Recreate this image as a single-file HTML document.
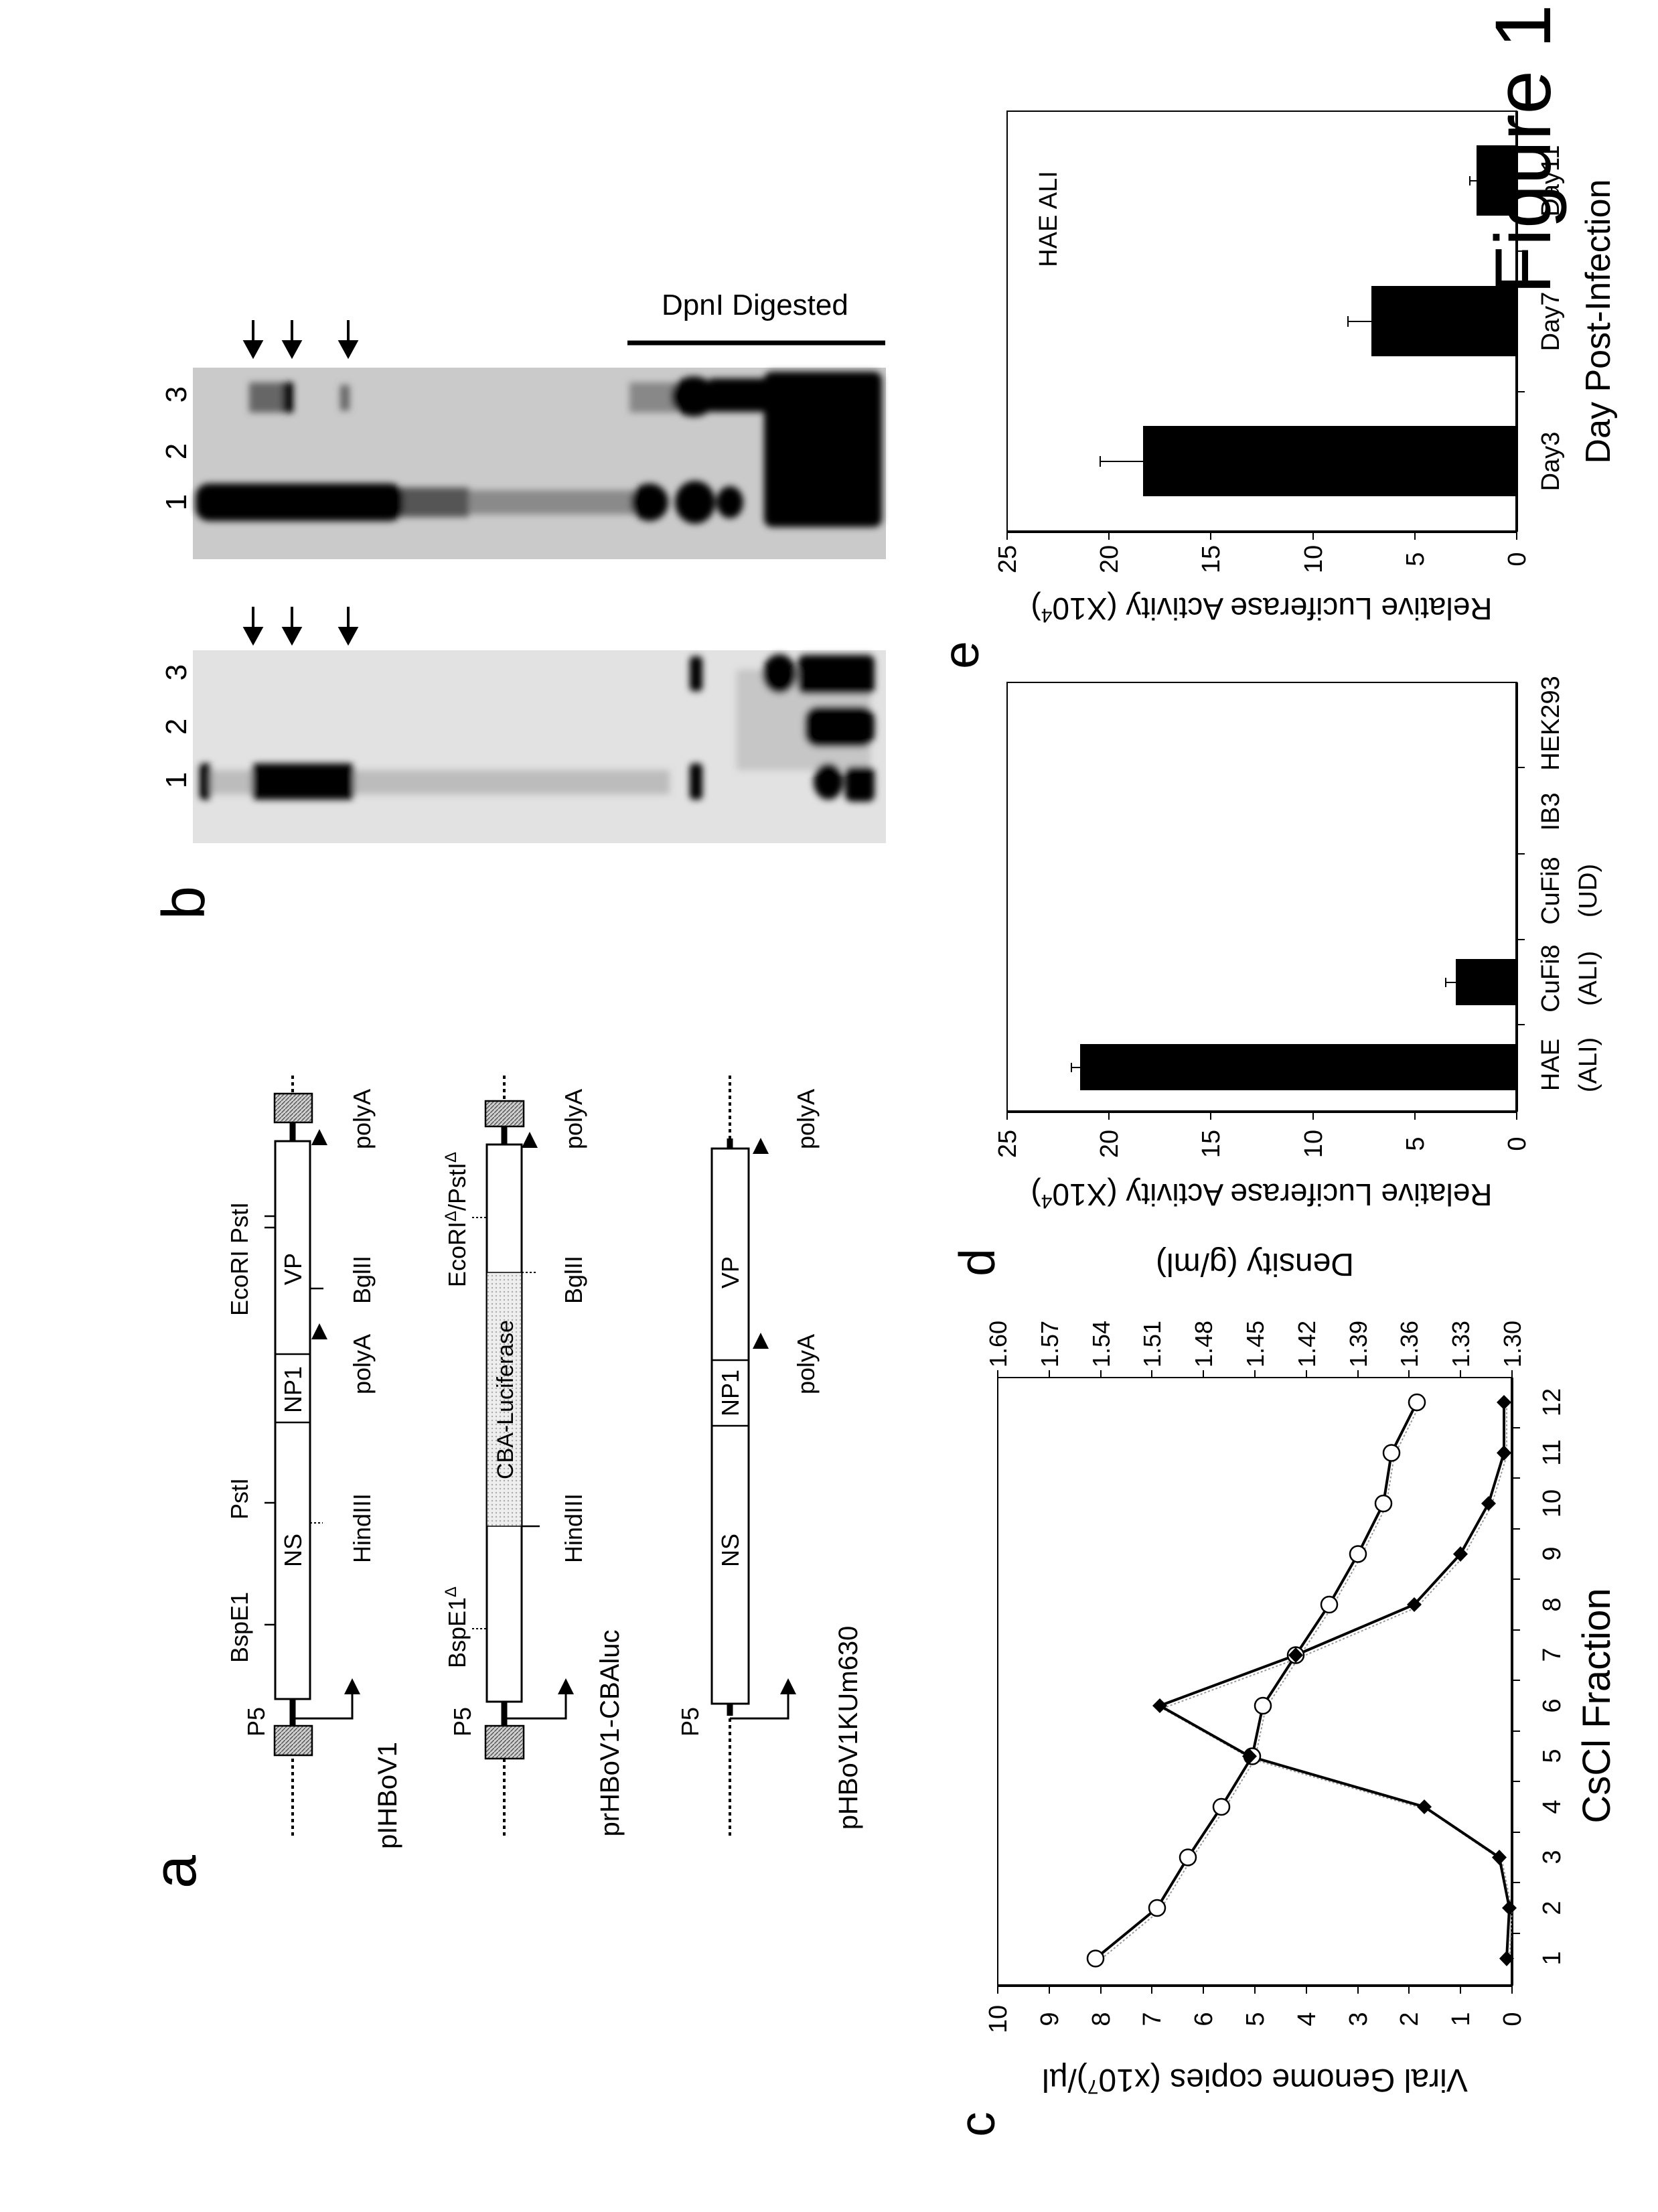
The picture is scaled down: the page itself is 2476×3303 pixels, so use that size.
<!DOCTYPE html>
<html><head><meta charset="utf-8"><style>
html,body{margin:0;padding:0;background:#fff;}
svg{display:block;}
text{font-family:"Liberation Sans",Arial,sans-serif;fill:#000;}
</style></head><body>
<svg width="2476" height="3303" viewBox="0 0 2476 3303" xmlns="http://www.w3.org/2000/svg">
<defs>
<filter id="bl" x="-20%" y="-20%" width="140%" height="140%"><feGaussianBlur stdDeviation="5"/></filter>
<pattern id="hatch" width="6" height="6" patternUnits="userSpaceOnUse"><rect width="6" height="6" fill="#d0d0d0"/><path d="M0 6L6 0" stroke="#555" stroke-width="1.5"/></pattern>
<pattern id="lite" width="6" height="6" patternUnits="userSpaceOnUse"><rect width="6" height="6" fill="#eee"/><circle cx="3" cy="3" r="1.2" fill="#aaa"/></pattern>
</defs>
<rect width="2476" height="3303" fill="#fff"/>

<!-- Figure 1 -->
<text transform="translate(2315,223) rotate(-90)" text-anchor="middle" font-size="118">Figure 1</text>

<!-- ============ PANEL b (gels) ============ -->
<text transform="translate(305,1348) rotate(-90)" text-anchor="middle" font-size="90">b</text>
<text x="988" y="470" font-size="44">DpnI Digested</text>
<line x1="937" y1="512" x2="1322" y2="512" stroke="#000" stroke-width="7"/>
<!-- top gel -->
<rect x="288" y="549" width="1035" height="286" fill="#cacaca"/>
<g filter="url(#bl)">
<rect x="700" y="732" width="250" height="36" fill="#8a8a8a"/>
<rect x="590" y="728" width="110" height="44" fill="#555"/>
<rect x="292" y="722" width="310" height="56" rx="20" fill="#000"/>
<ellipse cx="970" cy="750" rx="28" ry="28" fill="#000"/>
<ellipse cx="1038" cy="750" rx="30" ry="32" fill="#000"/>
<ellipse cx="1090" cy="750" rx="20" ry="24" fill="#000"/>
<rect x="1141" y="555" width="176" height="232" rx="12" fill="#000"/>
<rect x="372" y="571" width="66" height="45" fill="#666"/>
<rect x="422" y="571" width="16" height="45" fill="#000"/>
<rect x="508" y="575" width="14" height="38" fill="#666"/>
<rect x="940" y="571" width="70" height="45" fill="#888"/>
<ellipse cx="1036" cy="592" rx="34" ry="30" fill="#000"/>
<rect x="1060" y="565" width="100" height="50" fill="#000"/>
</g>
<!-- bottom gel -->
<rect x="288" y="971" width="1035" height="288" fill="#e2e2e2"/>
<g filter="url(#bl)">
<rect x="300" y="1150" width="700" height="36" fill="#bcbcbc"/>
<rect x="1100" y="1000" width="200" height="150" fill="#aaa" opacity="0.5"/>
<rect x="298" y="1140" width="17" height="54" rx="6" fill="#000"/>
<rect x="376" y="1140" width="153" height="54" rx="8" fill="#000"/>
<rect x="1030" y="1140" width="19" height="54" rx="6" fill="#000"/>
<rect x="1030" y="980" width="19" height="52" rx="6" fill="#000"/>
<ellipse cx="1237" cy="1167" rx="22" ry="27" fill="#000"/>
<rect x="1262" y="1145" width="44" height="52" rx="10" fill="#000"/>
<ellipse cx="1164" cy="1006" rx="25" ry="29" fill="#000"/>
<rect x="1192" y="978" width="114" height="58" rx="10" fill="#000"/>
<rect x="1202" y="1055" width="104" height="60" rx="20" fill="#000"/>
</g>
<g font-size="44">
<text transform="translate(278,750) rotate(-90)" text-anchor="middle">1</text>
<text transform="translate(278,674) rotate(-90)" text-anchor="middle">2</text>
<text transform="translate(278,589) rotate(-90)" text-anchor="middle">3</text>
<text transform="translate(278,1165) rotate(-90)" text-anchor="middle">1</text>
<text transform="translate(278,1085) rotate(-90)" text-anchor="middle">2</text>
<text transform="translate(278,1004) rotate(-90)" text-anchor="middle">3</text>
</g>
<g stroke="#000" stroke-width="4" fill="#000">
<line x1="378" y1="478" x2="378" y2="515"/><path d="M366 510L390 510L378 532Z"/>
<line x1="436" y1="478" x2="436" y2="515"/><path d="M424 510L448 510L436 532Z"/>
<line x1="520" y1="478" x2="520" y2="515"/><path d="M508 510L532 510L520 532Z"/>
<line x1="378" y1="906" x2="378" y2="943"/><path d="M366 938L390 938L378 960Z"/>
<line x1="436" y1="906" x2="436" y2="943"/><path d="M424 938L448 938L436 960Z"/>
<line x1="520" y1="906" x2="520" y2="943"/><path d="M508 938L532 938L520 960Z"/>
</g>

<!-- ============ PANEL e right ============ -->
<text transform="translate(1461,978) rotate(-90)" text-anchor="middle" font-size="75">e</text>
<rect x="1504" y="166" width="761" height="628" fill="none" stroke="#000" stroke-width="2"/>
<line x1="2265" y1="166" x2="2265" y2="794" stroke="#000" stroke-width="4"/>
<line x1="1504" y1="794" x2="2265" y2="794" stroke="#000" stroke-width="4"/>
<g fill="#000">
<rect x="1707" y="636" width="558" height="105"/>
<rect x="2048" y="427" width="217" height="105"/>
<rect x="2205" y="217" width="60" height="105"/>
</g>
<g stroke="#000" stroke-width="2">
<line x1="1643" y1="689" x2="1707" y2="689"/><line x1="1643" y1="681" x2="1643" y2="697"/>
<line x1="2013" y1="480" x2="2048" y2="480"/><line x1="2013" y1="472" x2="2013" y2="488"/>
<line x1="2195" y1="270" x2="2205" y2="270"/><line x1="2195" y1="263" x2="2195" y2="277"/>
<line x1="2265" y1="375" x2="2277" y2="375"/><line x1="2265" y1="585" x2="2277" y2="585"/>
<line x1="2265" y1="794" x2="2265" y2="806"/><line x1="2113" y1="794" x2="2113" y2="806"/><line x1="1961" y1="794" x2="1961" y2="806"/><line x1="1808" y1="794" x2="1808" y2="806"/><line x1="1656" y1="794" x2="1656" y2="806"/><line x1="1504" y1="794" x2="1504" y2="806"/>
</g>
<g font-size="38" text-anchor="middle">
<text transform="translate(2278,835) rotate(-90)">0</text>
<text transform="translate(2126,835) rotate(-90)">5</text>
<text transform="translate(1974,835) rotate(-90)">10</text>
<text transform="translate(1821,835) rotate(-90)">15</text>
<text transform="translate(1669,835) rotate(-90)">20</text>
<text transform="translate(1517,835) rotate(-90)">25</text>
<text transform="translate(2328,689) rotate(-90)">Day3</text>
<text transform="translate(2328,480) rotate(-90)">Day7</text>
<text transform="translate(2328,270) rotate(-90)">Day11</text>
<text transform="translate(1578,327) rotate(-90)">HAE ALI</text>
</g>
<text transform="translate(2404,480) rotate(-90)" text-anchor="middle" font-size="52">Day Post-Infection</text>
<text transform="translate(1884,893) rotate(180)" text-anchor="middle" font-size="46">Relative Luciferase Activity (X10<tspan font-size="30" dy="-16">4</tspan><tspan dy="16">)</tspan></text>

<!-- ============ PANEL e left ============ -->
<rect x="1504" y="1019" width="761" height="641" fill="none" stroke="#000" stroke-width="2"/>
<line x1="2265" y1="1019" x2="2265" y2="1660" stroke="#000" stroke-width="4"/>
<line x1="1504" y1="1660" x2="2265" y2="1660" stroke="#000" stroke-width="4"/>
<g fill="#000">
<rect x="1613" y="1559" width="652" height="69"/>
<rect x="2174" y="1432" width="91" height="69"/>
</g>
<g stroke="#000" stroke-width="2">
<line x1="1600" y1="1594" x2="1613" y2="1594"/><line x1="1600" y1="1587" x2="1600" y2="1601"/>
<line x1="2159" y1="1467" x2="2174" y2="1467"/><line x1="2159" y1="1460" x2="2159" y2="1474"/>
<line x1="2265" y1="1146" x2="2277" y2="1146"/><line x1="2265" y1="1275" x2="2277" y2="1275"/><line x1="2265" y1="1403" x2="2277" y2="1403"/><line x1="2265" y1="1530" x2="2277" y2="1530"/>
<line x1="2265" y1="1660" x2="2265" y2="1672"/><line x1="2113" y1="1660" x2="2113" y2="1672"/><line x1="1961" y1="1660" x2="1961" y2="1672"/><line x1="1808" y1="1660" x2="1808" y2="1672"/><line x1="1656" y1="1660" x2="1656" y2="1672"/><line x1="1504" y1="1660" x2="1504" y2="1672"/>
</g>
<g font-size="38" text-anchor="middle">
<text transform="translate(2278,1708) rotate(-90)">0</text>
<text transform="translate(2126,1708) rotate(-90)">5</text>
<text transform="translate(1974,1708) rotate(-90)">10</text>
<text transform="translate(1821,1708) rotate(-90)">15</text>
<text transform="translate(1669,1708) rotate(-90)">20</text>
<text transform="translate(1517,1708) rotate(-90)">25</text>
<text transform="translate(2328,1590) rotate(-90)">HAE</text>
<text transform="translate(2384,1590) rotate(-90)">(ALI)</text>
<text transform="translate(2328,1461) rotate(-90)">CuFi8</text>
<text transform="translate(2384,1461) rotate(-90)">(ALI)</text>
<text transform="translate(2328,1330) rotate(-90)">CuFi8</text>
<text transform="translate(2384,1330) rotate(-90)">(UD)</text>
<text transform="translate(2328,1212) rotate(-90)">IB3</text>
<text transform="translate(2328,1080) rotate(-90)">HEK293</text>
</g>
<text transform="translate(1884,1768) rotate(180)" text-anchor="middle" font-size="46">Relative Luciferase Activity (X10<tspan font-size="30" dy="-16">4</tspan><tspan dy="16">)</tspan></text>

<!-- ============ PANEL c/d ============ -->
<text transform="translate(1485,1885) rotate(-90)" text-anchor="middle" font-size="75">d</text>
<text transform="translate(1485,3172) rotate(-90)" text-anchor="middle" font-size="75">c</text>
<rect x="1490" y="2057" width="768" height="908" fill="none" stroke="#000" stroke-width="2"/>
<line x1="2258" y1="2057" x2="2258" y2="2965" stroke="#000" stroke-width="4"/>
<line x1="1490" y1="2965" x2="2258" y2="2965" stroke="#000" stroke-width="4"/>
<g stroke="#000" stroke-width="2">
<line x1="2258" y1="2965" x2="2258" y2="2977"/><line x1="2181" y1="2965" x2="2181" y2="2977"/><line x1="2104" y1="2965" x2="2104" y2="2977"/><line x1="2028" y1="2965" x2="2028" y2="2977"/><line x1="1951" y1="2965" x2="1951" y2="2977"/><line x1="1874" y1="2965" x2="1874" y2="2977"/><line x1="1797" y1="2965" x2="1797" y2="2977"/><line x1="1720" y1="2965" x2="1720" y2="2977"/><line x1="1644" y1="2965" x2="1644" y2="2977"/><line x1="1567" y1="2965" x2="1567" y2="2977"/><line x1="1490" y1="2965" x2="1490" y2="2977"/>
<line x1="1490" y1="2057" x2="1490" y2="2046"/><line x1="1567" y1="2057" x2="1567" y2="2046"/><line x1="1644" y1="2057" x2="1644" y2="2046"/><line x1="1720" y1="2057" x2="1720" y2="2046"/><line x1="1797" y1="2057" x2="1797" y2="2046"/><line x1="1874" y1="2057" x2="1874" y2="2046"/><line x1="1951" y1="2057" x2="1951" y2="2046"/><line x1="2028" y1="2057" x2="2028" y2="2046"/><line x1="2104" y1="2057" x2="2104" y2="2046"/><line x1="2181" y1="2057" x2="2181" y2="2046"/><line x1="2258" y1="2057" x2="2258" y2="2046"/>
<line x1="2258" y1="2887" x2="2270" y2="2887"/><line x1="2258" y1="2811" x2="2270" y2="2811"/><line x1="2258" y1="2736" x2="2270" y2="2736"/><line x1="2258" y1="2660" x2="2270" y2="2660"/><line x1="2258" y1="2585" x2="2270" y2="2585"/><line x1="2258" y1="2509" x2="2270" y2="2509"/><line x1="2258" y1="2434" x2="2270" y2="2434"/><line x1="2258" y1="2358" x2="2270" y2="2358"/><line x1="2258" y1="2283" x2="2270" y2="2283"/><line x1="2258" y1="2207" x2="2270" y2="2207"/><line x1="2258" y1="2132" x2="2270" y2="2132"/>
</g>
<g font-size="38" text-anchor="middle">
<text transform="translate(2271,3015) rotate(-90)">0</text>
<text transform="translate(2194,3015) rotate(-90)">1</text>
<text transform="translate(2117,3015) rotate(-90)">2</text>
<text transform="translate(2041,3015) rotate(-90)">3</text>
<text transform="translate(1964,3015) rotate(-90)">4</text>
<text transform="translate(1887,3015) rotate(-90)">5</text>
<text transform="translate(1810,3015) rotate(-90)">6</text>
<text transform="translate(1733,3015) rotate(-90)">7</text>
<text transform="translate(1657,3015) rotate(-90)">8</text>
<text transform="translate(1580,3015) rotate(-90)">9</text>
<text transform="translate(1503,3015) rotate(-90)">10</text>
<text transform="translate(2330,2924) rotate(-90)">1</text>
<text transform="translate(2330,2849) rotate(-90)">2</text>
<text transform="translate(2330,2773) rotate(-90)">3</text>
<text transform="translate(2330,2698) rotate(-90)">4</text>
<text transform="translate(2330,2622) rotate(-90)">5</text>
<text transform="translate(2330,2547) rotate(-90)">6</text>
<text transform="translate(2330,2471) rotate(-90)">7</text>
<text transform="translate(2330,2396) rotate(-90)">8</text>
<text transform="translate(2330,2320) rotate(-90)">9</text>
<text transform="translate(2330,2245) rotate(-90)">10</text>
<text transform="translate(2330,2169) rotate(-90)">11</text>
<text transform="translate(2330,2094) rotate(-90)">12</text>
</g>
<g font-size="36" text-anchor="start">
<text transform="translate(1503,2042) rotate(-90)">1.60</text>
<text transform="translate(1580,2042) rotate(-90)">1.57</text>
<text transform="translate(1657,2042) rotate(-90)">1.54</text>
<text transform="translate(1733,2042) rotate(-90)">1.51</text>
<text transform="translate(1810,2042) rotate(-90)">1.48</text>
<text transform="translate(1887,2042) rotate(-90)">1.45</text>
<text transform="translate(1964,2042) rotate(-90)">1.42</text>
<text transform="translate(2041,2042) rotate(-90)">1.39</text>
<text transform="translate(2117,2042) rotate(-90)">1.36</text>
<text transform="translate(2194,2042) rotate(-90)">1.33</text>
<text transform="translate(2271,2042) rotate(-90)">1.30</text>
</g>
<text transform="translate(2404,2547) rotate(-90)" text-anchor="middle" font-size="58">CsCl Fraction</text>
<text transform="translate(1874,1872) rotate(180)" text-anchor="middle" font-size="48">Density (g/ml)</text>
<text transform="translate(1874,3090) rotate(180)" text-anchor="middle" font-size="48">Viral Genome copies (x10<tspan font-size="30" dy="-16">7</tspan><tspan dy="16">)/µl</tspan></text>
<g fill="none" stroke="#999" stroke-width="2" stroke-dasharray="3,3">
<polyline points="1640,2929 1732,2853 1778,2778 1828,2702 1874,2627 1890,2551 1939,2476 1989,2400 2032,2325 2070,2249 2082,2174 2120,2098"/>
<polyline points="2254,2929 2258,2853 2243,2778 2131,2702 1870,2627 1736,2551 1939,2476 2116,2400 2185,2325 2227,2249 2250,2174 2250,2098"/>
</g>
<polyline fill="none" stroke="#000" stroke-width="4" points="1636,2924.5 1728,2849 1774,2773.5 1824,2698 1870,2622.5 1886,2547 1935,2471.5 1985,2396 2028,2320.5 2066,2245 2078,2169.5 2116,2094"/>
<polyline fill="none" stroke="#000" stroke-width="4" points="2250,2924.5 2254,2849 2239,2773.5 2127,2698 1866,2622.5 1732,2547 1935,2471.5 2112,2396 2181,2320.5 2223,2245 2246,2169.5 2246,2094"/>
<g fill="#fff" stroke="#000" stroke-width="2.5">
<circle cx="1636" cy="2924.5" r="12"/><circle cx="1728" cy="2849" r="12"/><circle cx="1774" cy="2773.5" r="12"/><circle cx="1824" cy="2698" r="12"/><circle cx="1870" cy="2622.5" r="12"/><circle cx="1886" cy="2547" r="12"/><circle cx="1935" cy="2471.5" r="12"/><circle cx="1985" cy="2396" r="12"/><circle cx="2028" cy="2320.5" r="12"/><circle cx="2066" cy="2245" r="12"/><circle cx="2078" cy="2169.5" r="12"/><circle cx="2116" cy="2094" r="12"/>
</g>
<g fill="#000">
<path d="M2250 2913L2261 2924.5L2250 2936L2239 2924.5Z"/><path d="M2254 2838L2265 2849L2254 2860L2243 2849Z"/><path d="M2239 2762L2250 2773.5L2239 2785L2228 2773.5Z"/><path d="M2127 2687L2138 2698L2127 2709L2116 2698Z"/><path d="M1866 2611L1877 2622.5L1866 2634L1855 2622.5Z"/><path d="M1732 2536L1743 2547L1732 2558L1721 2547Z"/><path d="M1935 2460L1946 2471.5L1935 2483L1924 2471.5Z"/><path d="M2112 2385L2123 2396L2112 2407L2101 2396Z"/><path d="M2181 2309L2192 2320.5L2181 2332L2170 2320.5Z"/><path d="M2223 2234L2234 2245L2223 2256L2212 2245Z"/><path d="M2246 2158L2257 2169.5L2246 2181L2235 2169.5Z"/><path d="M2246 2083L2257 2094L2246 2105L2235 2094Z"/>
</g>

<!-- ============ PANEL a ============ -->
<text transform="translate(292,2795) rotate(-90)" text-anchor="middle" font-size="90">a</text>
<g stroke="#000" stroke-width="4" stroke-dasharray="5,5" fill="none">
<line x1="437" y1="1606" x2="437" y2="2741"/>
<line x1="753" y1="1606" x2="753" y2="2741"/>
<line x1="1090" y1="1606" x2="1090" y2="2741"/>
</g>
<g stroke="#000" stroke-width="9">
<line x1="437" y1="2537" x2="437" y2="2577"/><line x1="437" y1="1676" x2="437" y2="1704"/>
<line x1="753" y1="2541" x2="753" y2="2577"/><line x1="753" y1="1682" x2="753" y2="1709"/>
<line x1="1090" y1="2544" x2="1090" y2="2562"/><line x1="1090" y1="1700" x2="1090" y2="1715"/>
</g>
<g stroke="#000" stroke-width="2.5" fill="url(#hatch)">
<rect x="410" y="2577" width="56" height="44"/><rect x="410" y="1633" width="56" height="43"/>
<rect x="725" y="2577" width="57" height="49"/><rect x="725" y="1644" width="57" height="38"/>
</g>
<g stroke="#000" stroke-width="3" fill="#fff">
<rect x="411" y="1704" width="52" height="833"/>
<rect x="727" y="1709" width="52" height="832"/>
<rect x="727" y="1900" width="52" height="379" fill="url(#lite)" stroke-width="1.5"/>
<rect x="1063" y="1715" width="55" height="829"/>
</g>
<g stroke="#000" stroke-width="2.5">
<line x1="411" y1="2124" x2="463" y2="2124"/><line x1="411" y1="2022" x2="463" y2="2022"/>
<line x1="1063" y1="2129" x2="1118" y2="2129"/><line x1="1063" y1="2031" x2="1118" y2="2031"/>
<line x1="395" y1="2426" x2="411" y2="2426"/><line x1="395" y1="2244" x2="411" y2="2244"/><line x1="395" y1="1833" x2="411" y2="1833"/><line x1="395" y1="1816" x2="411" y2="1816"/>
<line x1="463" y1="1924" x2="483" y2="1924"/>
<line x1="779" y1="2279" x2="806" y2="2279"/>
</g>
<g stroke="#000" stroke-width="2" stroke-dasharray="3,3">
<line x1="463" y1="2274" x2="482" y2="2274"/>
<line x1="705" y1="2432" x2="727" y2="2432"/><line x1="705" y1="1818" x2="727" y2="1818"/>
<line x1="779" y1="1900" x2="800" y2="1900"/>
</g>
<g fill="none" stroke="#000" stroke-width="3">
<polyline points="437,2566 526,2566 526,2522"/>
<polyline points="753,2566 845,2566 845,2522"/>
<polyline points="1090,2566 1177,2566 1177,2522"/>
</g>
<g fill="#000">
<path d="M514 2530L538 2530L526 2506Z"/><path d="M833 2530L857 2530L845 2506Z"/><path d="M1165 2530L1189 2530L1177 2506Z"/>
<path d="M465 2000L489 2000L477 1976Z"/><path d="M465 1710L489 1710L477 1686Z"/>
<path d="M779 1714L803 1714L791 1690Z"/>
<path d="M1124 2014L1148 2014L1136 1990Z"/><path d="M1124 1723L1148 1723L1136 1699Z"/>
</g>
<g font-size="36" text-anchor="middle">
<text transform="translate(450,2315) rotate(-90)">NS</text>
<text transform="translate(450,2075) rotate(-90)">NP1</text>
<text transform="translate(450,1895) rotate(-90)">VP</text>
<text transform="translate(766,2090) rotate(-90)" font-size="34">CBA-Luciferase</text>
<text transform="translate(1103,2315) rotate(-90)">NS</text>
<text transform="translate(1103,2080) rotate(-90)">NP1</text>
<text transform="translate(1103,1900) rotate(-90)">VP</text>
<text transform="translate(395,2571) rotate(-90)">P5</text>
<text transform="translate(370,2430) rotate(-90)">BspE1</text>
<text transform="translate(370,2238) rotate(-90)">PstI</text>
<text transform="translate(370,1880) rotate(-90)">EcoRI PstI</text>
<text transform="translate(553,2282) rotate(-90)">HindIII</text>
<text transform="translate(553,2037) rotate(-90)">polyA</text>
<text transform="translate(553,1911) rotate(-90)">BglII</text>
<text transform="translate(553,1671) rotate(-90)">polyA</text>
<text transform="translate(592,2681) rotate(-90)" font-size="40">pIHBoV1</text>
<text transform="translate(703,2571) rotate(-90)">P5</text>
<text transform="translate(695,2430) rotate(-90)">BspE1<tspan font-size="24" dy="-14">Δ</tspan></text>
<text transform="translate(695,1821) rotate(-90)">EcoRI<tspan font-size="24" dy="-14">Δ</tspan><tspan dy="14">/PstI</tspan><tspan font-size="24" dy="-14">Δ</tspan></text>
<text transform="translate(869,2282) rotate(-90)">HindIII</text>
<text transform="translate(869,1911) rotate(-90)">BglII</text>
<text transform="translate(869,1671) rotate(-90)">polyA</text>
<text transform="translate(924,2588) rotate(-90)" font-size="40">prHBoV1-CBAluc</text>
<text transform="translate(1043,2571) rotate(-90)">P5</text>
<text transform="translate(1216,2037) rotate(-90)">polyA</text>
<text transform="translate(1216,1671) rotate(-90)">polyA</text>
<text transform="translate(1280,2580) rotate(-90)" font-size="40">pHBoV1KUm630</text>
</g>
</svg>
</body></html>
